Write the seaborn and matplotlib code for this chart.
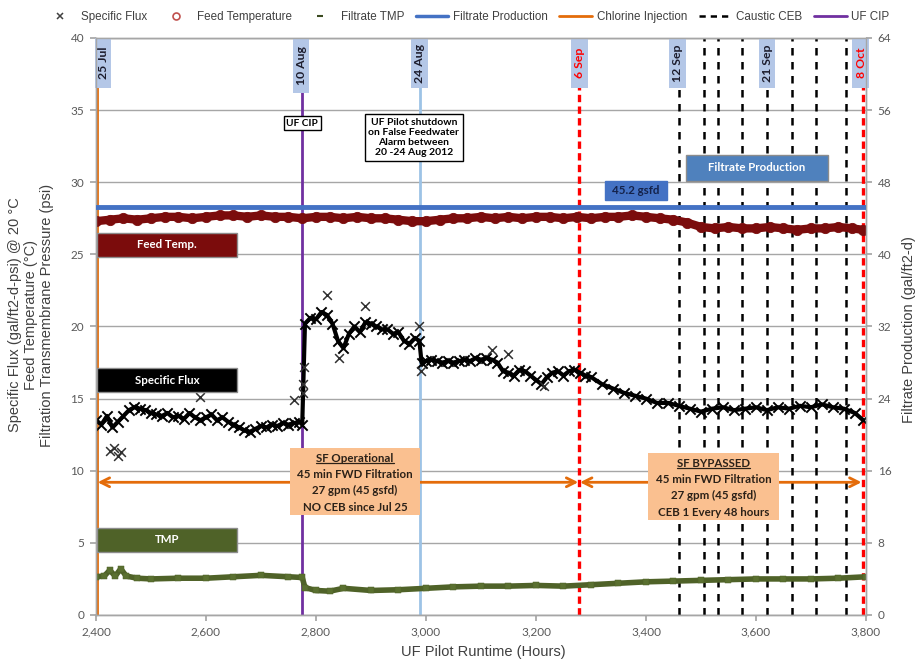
import matplotlib
matplotlib.use("Agg")
import matplotlib.pyplot as plt
from matplotlib.patches import Rectangle
from matplotlib.lines import Line2D
import pandas as pd
import seaborn as sns

sns.set_theme(style="white")
plt.rcParams['font.family'] = ['Liberation Sans', 'DejaVu Sans']

# ---------------- data ----------------
flux_hours = [2400, 2410, 2420, 2430, 2440, 2450, 2460, 2470, 2480, 2490,
              2500, 2510, 2520, 2530, 2540, 2550, 2560, 2570, 2580, 2590,
              2600, 2610, 2620, 2630, 2640, 2650, 2660, 2670, 2680, 2690,
              2700, 2710, 2720, 2730, 2740, 2750, 2760, 2770, 2775,
              2780, 2790, 2800, 2810, 2820, 2830, 2840, 2850, 2860, 2870,
              2880, 2890, 2900, 2910, 2920, 2930, 2940, 2950, 2960, 2970,
              2980, 2988, 2992, 3000, 3010, 3020, 3030, 3040, 3050, 3060,
              3070, 3080, 3090, 3100, 3110, 3120, 3130, 3140, 3150, 3160,
              3170, 3180, 3190, 3200, 3210, 3220, 3230, 3240, 3250, 3260,
              3270, 3280, 3290, 3300, 3320, 3340, 3360, 3380, 3400, 3420,
              3440, 3460, 3480, 3500, 3520, 3540, 3560, 3580, 3600, 3620,
              3640, 3660, 3680, 3700, 3720, 3740, 3760, 3780, 3795]
flux_values = [13.5, 13.2, 13.8, 13.0, 13.4, 13.8, 14.2, 14.4, 14.3, 14.2,
               14.0, 13.9, 13.8, 14.0, 13.7, 13.8, 13.6, 14.0, 13.7, 13.5,
               13.7, 13.9, 13.5, 13.7, 13.4, 13.2, 13.0, 12.8, 12.7, 12.9,
               13.1, 13.0, 13.2, 13.1, 13.3, 13.2, 13.3, 13.4, 13.2,
               20.2, 20.6, 20.5, 21.0, 20.8, 20.2, 19.0, 18.5, 19.5, 20.0,
               19.6, 20.3, 20.2, 20.0, 19.8, 19.8, 19.5, 19.6, 19.0, 18.8,
               19.2, 19.0, 17.5, 17.6, 17.7, 17.6, 17.5, 17.6, 17.5, 17.6,
               17.7, 17.6, 17.8, 17.7, 17.8, 17.7, 17.5, 16.9, 16.8, 16.6,
               17.0, 16.9, 16.6, 16.3, 16.0, 16.5, 16.8, 16.9, 16.6, 16.9,
               17.0, 16.8, 16.6, 16.5, 16.0, 15.7, 15.4, 15.2, 15.0, 14.7,
               14.7, 14.5, 14.3, 14.1, 14.3, 14.4, 14.2, 14.3, 14.4, 14.2,
               14.4, 14.3, 14.5, 14.4, 14.6, 14.4, 14.3, 14.0, 13.5]
flux_out_hours = [2425, 2432, 2440, 2445, 2590, 2760, 2776, 2777, 2778,
                  2820, 2842, 2890, 2988, 2991, 3120, 3150, 3215]
flux_out_values = [11.4, 11.6, 11.0, 11.3, 15.1, 14.9, 15.4, 16.0, 17.2,
                   22.2, 17.8, 21.4, 20.0, 16.9, 18.4, 18.1, 15.9]

temp_hours = [2400, 2425, 2450, 2475, 2500, 2525, 2550, 2575, 2600, 2625,
              2650, 2675, 2700, 2725, 2750, 2775, 2800, 2825, 2850, 2875,
              2900, 2925, 2950, 2975, 3000, 3025, 3050, 3075, 3100, 3125,
              3150, 3175, 3200, 3225, 3250, 3275, 3300, 3325, 3350, 3375,
              3400, 3425, 3450, 3475, 3500, 3525, 3550, 3575, 3600, 3625,
              3650, 3675, 3700, 3725, 3750, 3775, 3795]
temp_values = [27.3, 27.4, 27.5, 27.4, 27.5, 27.6, 27.6, 27.5, 27.6, 27.7,
               27.7, 27.6, 27.7, 27.6, 27.6, 27.5, 27.6, 27.6, 27.5, 27.6,
               27.5, 27.5, 27.4, 27.3, 27.3, 27.4, 27.5, 27.5, 27.6, 27.5,
               27.6, 27.5, 27.6, 27.6, 27.5, 27.6, 27.5, 27.6, 27.6, 27.7,
               27.6, 27.5, 27.4, 27.2, 26.9, 26.8, 26.9, 26.8, 26.8, 26.9,
               26.8, 26.7, 26.8, 26.8, 26.9, 26.8, 26.7]

tmp_hours = [2400, 2415, 2425, 2435, 2445, 2455, 2475, 2500, 2550, 2600,
             2650, 2700, 2750, 2775, 2780, 2800, 2825, 2850, 2900, 2950,
             3000, 3050, 3100, 3150, 3200, 3250, 3300, 3350, 3400, 3450,
             3500, 3550, 3600, 3650, 3700, 3750, 3800]
tmp_values = [2.65, 2.7, 3.1, 2.7, 3.2, 2.7, 2.55, 2.5, 2.55, 2.55,
              2.65, 2.75, 2.65, 2.6, 1.9, 1.7, 1.65, 1.85, 1.7, 1.75,
              1.85, 1.95, 2.0, 2.0, 2.05, 2.0, 2.1, 2.2, 2.3, 2.35,
              2.4, 2.45, 2.5, 2.5, 2.5, 2.55, 2.65]

production_hours = [2400, 3800]
production_values = [45.2, 45.2]

chlorine_hours = [2402]
cip_hours = [2775]
shutdown_hours = [2990]
red_event_hours = [3279, 3794]
ceb_hours = [3460, 3505, 3531, 3574, 3620, 3665, 3710, 3764]

date_labels = ['25 Jul', '10 Aug', '24 Aug', '6 Sep', '12 Sep', '21 Sep', '8 Oct']
date_label_hours = [2413, 2773, 2988, 3279, 3457, 3620, 3790]
date_label_red = [False, False, False, True, False, False, True]

x_ticks = [2400, 2600, 2800, 3000, 3200, 3400, 3600, 3800]
x_tick_labels = ['2,400', '2,600', '2,800', '3,000', '3,200', '3,400', '3,600', '3,800']
left_ticks = [0, 5, 10, 15, 20, 25, 30, 35, 40]
right_ticks = [0, 8, 16, 24, 32, 40, 48, 56, 64]

# ---------------- figure ----------------
fig = plt.figure(figsize=(9.15, 6.64), dpi=100)
ax = fig.add_axes([0.1049, 0.0738, 0.8415, 0.869])
ax2 = ax.twinx()

ax.set_xlim(2400, 3800)
ax.set_ylim(0, 40)
ax2.set_ylim(0, 64)

GRAY = '#a6a6a6'
TICKC = '#595959'

ax.set_yticks(left_ticks)
ax2.set_yticks(right_ticks)
ax.set_xticks(x_ticks)
ax.set_xticklabels(x_tick_labels)
ax.yaxis.grid(True, color=GRAY, lw=1)
ax.xaxis.grid(False)
ax.set_axisbelow(True)
for a in (ax, ax2):
    for s in a.spines.values():
        s.set_color(GRAY)
        s.set_linewidth(1)
ax.tick_params(axis='both', which='both', direction='out', length=4.5, color=GRAY,
               labelsize=8.5, labelcolor=TICKC, left=True, bottom=True, pad=4)
ax2.tick_params(axis='y', direction='out', length=4.5, color=GRAY,
                labelsize=8.5, labelcolor=TICKC, right=True, pad=4)
for lab in ax.get_xticklabels() + ax.get_yticklabels() + ax2.get_yticklabels():
    lab.set_fontfamily(['Lato', 'DejaVu Sans'])

# vertical event lines
for h in chlorine_hours:
    ax.axvline(h, color='#e46c0a', lw=2, zorder=2)
for h in cip_hours:
    ax.axvline(h, color='#7030a0', lw=2, zorder=2)
for h in shutdown_hours:
    ax.axvline(h, color='#9dc3e6', lw=2, zorder=2)
for h in ceb_hours:
    ax.axvline(h, color='black', lw=1.8, ls=(0, (3, 2.6)), zorder=2)
for h in red_event_hours:
    ax.axvline(h, color='#ff0000', lw=2.4, ls=(0, (2.2, 1.3)), zorder=2)

# data series
flux_df = pd.DataFrame({'hours': flux_hours, 'flux': flux_values})
sns.lineplot(data=flux_df, x='hours', y='flux', ax=ax, color='black', lw=3,
             sort=False, zorder=4)
sns.scatterplot(data=flux_df, x='hours', y='flux', ax=ax, marker='x', color='black',
                s=55, linewidth=1.4, zorder=4)
out_df = pd.DataFrame({'hours': flux_out_hours, 'flux': flux_out_values})
sns.scatterplot(data=out_df, x='hours', y='flux', ax=ax, marker='x', color='#303030',
                s=40, linewidth=1.1, zorder=4)

temp_df = pd.DataFrame({'hours': temp_hours, 'temp': temp_values})
sns.lineplot(data=temp_df, x='hours', y='temp', ax=ax, color='#7b0c0c', lw=6,
             zorder=4)
sns.scatterplot(data=temp_df, x='hours', y='temp', ax=ax, marker='o', color='#7b0c0c',
                edgecolor='#7b0c0c', s=55, zorder=4)

tmp_df = pd.DataFrame({'hours': tmp_hours, 'tmp': tmp_values})
sns.lineplot(data=tmp_df, x='hours', y='tmp', ax=ax, color='#4f6228', lw=4,
             zorder=4)
sns.scatterplot(data=tmp_df, x='hours', y='tmp', ax=ax, marker='s', color='#5a7030',
                edgecolor='#4f6228', s=20, zorder=4)

prod_df = pd.DataFrame({'hours': production_hours, 'prod': production_values})
sns.lineplot(data=prod_df, x='hours', y='prod', ax=ax2, color='#4472c4', lw=3.5,
             zorder=3)

ax.set_xlabel('')
ax.set_ylabel('')
ax2.set_ylabel('')
ax2.set_xlim(2400, 3800)

# double arrows
ARROW_Y = 9.2
for x0, x1 in [(chlorine_hours[0], red_event_hours[0]), (red_event_hours[0], red_event_hours[1])]:
    ax.annotate('', xy=(x0 + 1, ARROW_Y), xytext=(x1 - 2, ARROW_Y),
                arrowprops=dict(arrowstyle='<->', color='#e46c0a', lw=2,
                                mutation_scale=16, shrinkA=0, shrinkB=0),
                zorder=3)

# date label boxes at the top
for lab, h, red in zip(date_labels, date_label_hours, date_label_red):
    bottom = 36.5 if lab != '10 Aug' else 36.2
    ax.add_patch(Rectangle((h - 15, bottom), 30, 40 - bottom, facecolor='#b4c7e7',
                           edgecolor='none', zorder=6, clip_on=False))
    ax.text(h + 1, (40 + bottom) / 2, lab, rotation=90, ha='center', va='center',
            fontsize=8.8, fontweight='bold', color='#ff0000' if red else '#1c1c2c',
            family=['Lato', 'DejaVu Sans'], zorder=7)

# coloured series label boxes
def label_box(x0, x1, y0, y1, fc, text, tc='white', ec='#8c8c8c', size=8.3):
    ax.add_patch(Rectangle((x0, y0), x1 - x0, y1 - y0, facecolor=fc, edgecolor=ec,
                           lw=1, zorder=6))
    ax.text((x0 + x1) / 2, (y0 + y1) / 2, text, ha='center', va='center', color=tc,
            fontsize=size, fontweight='bold', family=['Lato', 'DejaVu Sans'], zorder=7)

label_box(2402, 2657, 24.8, 26.5, '#7b0c0c', 'Feed Temp.')
label_box(2402, 2657, 15.45, 17.1, 'black', 'Specific Flux')
label_box(2402, 2657, 4.4, 6.0, '#4f6228', 'TMP')
label_box(3473, 3731, 30.1, 31.9, '#4f81bd', 'Filtrate Production')
label_box(3325, 3438, 28.8, 30.1, '#4472c4', '45.2 gsfd', tc='#14224a', ec='#4472c4')

# white note boxes
ax.text(cip_hours[0], 34.1, 'UF CIP', ha='center', va='center', fontsize=7.3,
        fontweight='bold', family=['Lato', 'DejaVu Sans'], color='black', zorder=7,
        bbox=dict(boxstyle='square,pad=0.25', facecolor='white', edgecolor='black', lw=1))
ax.text(2978, 33.1, 'UF Pilot shutdown\non False Feedwater\nAlarm between\n20 -24 Aug 2012',
        ha='center', va='center', fontsize=7.5, fontweight='bold', linespacing=1.15,
        family=['Lato', 'DejaVu Sans'], color='black', zorder=7,
        bbox=dict(boxstyle='square,pad=0.35', facecolor='white', edgecolor='black', lw=1))

# orange operational boxes
titles = []
def op_box(x0, x1, y0, y1, title, lines):
    ax.add_patch(Rectangle((x0, y0), x1 - x0, y1 - y0, facecolor='#fac090',
                           edgecolor='none', zorder=6))
    xc = (x0 + x1) / 2
    n = len(lines) + 1
    step = (y1 - y0) / (n + 0.1)
    t = ax.text(xc, y1 - step * 0.62, title, ha='center', va='center', fontsize=8.3,
                fontweight='bold', color='#2b2118', family=['Lato', 'DejaVu Sans'],
                zorder=7)
    titles.append(t)
    for i, ln in enumerate(lines):
        ax.text(xc, y1 - step * (1.62 + i), ln, ha='center', va='center', fontsize=8.3,
                fontweight='bold', color='#2b2118', family=['Lato', 'DejaVu Sans'],
                zorder=7)

op_box(2753, 2989, 6.93, 11.57, 'SF Operational',
       ['45 min FWD Filtration', '27 gpm (45 gsfd)', 'NO CEB since Jul 25'])
op_box(3404, 3642, 6.6, 11.2, 'SF BYPASSED',
       ['45 min FWD Filtration', '27 gpm (45 gsfd)', 'CEB 1 Every 48 hours'])

# underline the box titles using their rendered extent
fig.canvas.draw()
renderer = fig.canvas.get_renderer()
inv = ax.transData.inverted()
for t in titles:
    bb = t.get_window_extent(renderer)
    (xa, ya), (xb, yb) = inv.transform([(bb.x0, bb.y0 + 1), (bb.x1, bb.y0 + 1)])
    ax.plot([xa, xb], [ya, yb], color='#2b2118', lw=0.9, zorder=7)

# axis titles
fig.text(31 / 915, 1 - 315 / 664,
         'Specific Flux (gal/ft2-d-psi) @ 20 °C\nFeed Temperature (°C)\nFiltration Transmembrane Pressure (psi)',
         rotation=90, ha='center', va='center', multialignment='center',
         fontsize=10.5, color='#404040', linespacing=1.15)
fig.text(909 / 915, 1 - 330 / 664, 'Filtrate Production (gal/ft2-d)', rotation=90,
         ha='center', va='center', fontsize=10.5, color='#404040')
fig.text(483 / 915, 1 - 652 / 664, 'UF Pilot Runtime (Hours)', ha='center', va='center',
         fontsize=10.5, color='#404040')

# legend
handles = [
    Line2D([], [], marker='x', color='#404040', ls='none', ms=5, mew=1.1),
    Line2D([], [], marker='o', mfc='none', mec='#c0504d', ls='none', ms=5, mew=1.2),
    Line2D([], [], marker='_', color='#3a4a20', ls='none', ms=4, mew=1.5),
    Line2D([], [], color='#4472c4', lw=2.5),
    Line2D([], [], color='#e46c0a', lw=2),
    Line2D([], [], color='black', lw=1.8, ls=(0, (2.5, 2))),
    Line2D([], [], color='#7030a0', lw=2),
]
labels = ['Specific Flux', 'Feed Temperature', 'Filtrate TMP', 'Filtrate Production',
          'Chlorine Injection', 'Caustic CEB', 'UF CIP']
fig.legend(handles, labels, loc='center', bbox_to_anchor=(0.51, 0.974), ncol=7,
           frameon=False, fontsize=8.4, handlelength=2.8, columnspacing=1.0,
           handletextpad=0.4, labelcolor='#404040')

fig.savefig('out.png', dpi=100)
